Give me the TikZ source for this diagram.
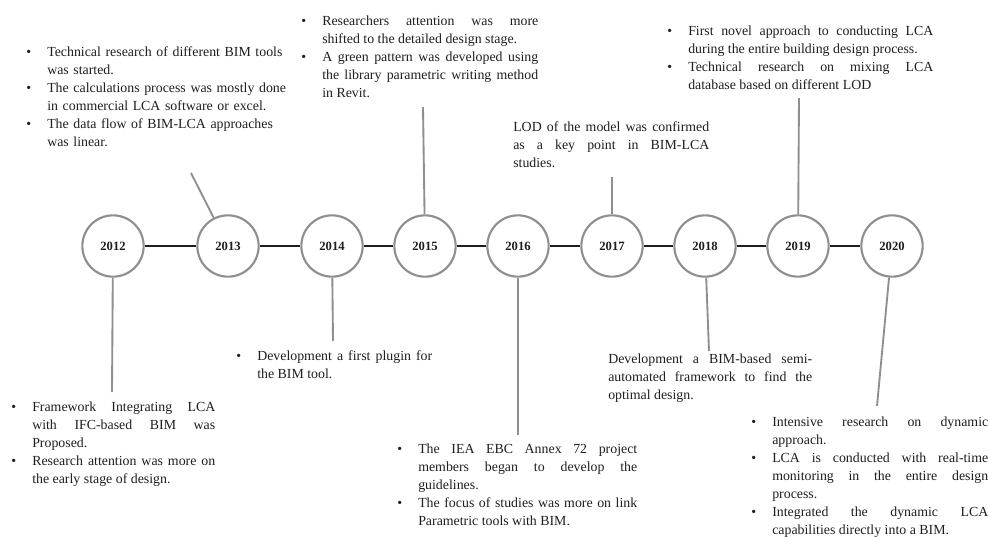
\documentclass[tikz,border=0pt]{standalone}
\usepackage{fontspec}
\setmainfont{Liberation Serif}
\usetikzlibrary{positioning}
\definecolor{ringgrey}{HTML}{8F8F8F}
\definecolor{inkblack}{HTML}{1E1E1E}
\newlength{\tlhang}
\setlength{\tlhang}{15.75pt}
\newcommand{\tlitem}[1]{\noindent\hangindent=\tlhang\hangafter=1\makebox[\tlhang][l]{\textbullet}#1\par}
\tikzset{
  tl yr/.style={circle, draw=ringgrey, line width=1.6pt, fill=white, minimum size=46pt, inner sep=0pt,
                text=inkblack, font=\fontsize{9.5}{11}\selectfont\bfseries},
  tl link/.style={draw=inkblack, line width=0.9pt},
  tl tick/.style={draw=ringgrey, line width=1.4pt},
  tl txt/.style={anchor=north west, inner sep=0pt, align=justify, text=inkblack,
                 font=\fontsize{10.4}{13.5}\selectfont},
}
\begin{document}
\begin{tikzpicture}[x=0.75pt, y=-0.75pt]
  \useasboundingbox (0,0) rectangle (989,536);
  % years on the time line
  \node[tl yr] (y2012) at (113,246) {2012};
  \node[tl yr] (y2013) at (228,246) {2013};
  \node[tl yr] (y2014) at (332,246) {2014};
  \node[tl yr] (y2015) at (425,246) {2015};
  \node[tl yr] (y2016) at (518,246) {2016};
  \node[tl yr] (y2017) at (612,246) {2017};
  \node[tl yr] (y2018) at (705,246) {2018};
  \node[tl yr] (y2019) at (798,246) {2019};
  \node[tl yr] (y2020) at (892,246) {2020};
  \foreach \a/\b in {2012/2013,2013/2014,2014/2015,2015/2016,2016/2017,2017/2018,2018/2019,2019/2020}
    \draw[tl link] (y\a) -- (y\b);
  % free ends of the ticks
  \coordinate (e2012) at (112,392);
  \coordinate (e2013) at (191,173);
  \coordinate (e2014) at (333,341);
  \coordinate (e2015) at (423,107);
  \coordinate (e2016) at (518,435);
  \coordinate (e2017) at (612,177);
  \coordinate (e2018) at (709,351);
  \coordinate (e2019) at (799,98);
  \coordinate (e2020) at (877,406);
  \foreach \y in {2012,...,2020} \draw[tl tick] (y\y) -- (e\y);
  % notes above the line
  \node[tl txt, text width=200pt, align=left] (n2013) at (26,46)
    {\tlitem{Technical research of different BIM tools\linebreak was started.}
     \tlitem{The calculations process was mostly done\linebreak in commercial LCA software or excel.}
     \tlitem{The data flow of BIM-LCA approaches\linebreak was linear.}};
  \node[tl txt, text width=177.75pt] (n2015) at (301,16)
    {\tlitem{Researchers attention was more\linebreak shifted to the detailed design stage.}
     \tlitem{A green pattern was developed using\linebreak the library parametric writing method\linebreak in Revit.}};
  \node[tl txt, text width=147pt] (n2017) at (513,121)
    {\noindent LOD of the model was confirmed\linebreak as a key point in BIM-LCA\linebreak studies.};
  \node[tl txt, text width=199.5pt] (n2019) at (667,26)
    {\tlitem{First novel approach to conducting LCA\linebreak during the entire building design process.}
     \tlitem{Technical research on mixing LCA\linebreak database based on different LOD}};
  % notes below the line
  \node[tl txt, text width=153pt] (n2012) at (11,402)
    {\tlitem{Framework Integrating LCA\linebreak with IFC-based BIM was\linebreak Proposed.}
     \tlitem{Research attention was more on\linebreak the early stage of design.}};
  \node[tl txt, text width=147pt] (n2014) at (236,350)
    {\tlitem{Development a first plugin for\linebreak the BIM tool.}};
  \node[tl txt, text width=180pt] (n2016) at (397,444)
    {\tlitem{The IEA EBC Annex 72 project\linebreak members began to develop the\linebreak guidelines.}
     \tlitem{The focus of studies was more on link\linebreak Parametric tools with BIM.}};
  \node[tl txt, text width=153pt] (n2018) at (608,354)
    {\noindent Development a BIM-based semi-\linebreak automated framework to find the\linebreak optimal design.};
  \node[tl txt, text width=177.75pt] (n2020) at (751,417)
    {\tlitem{Intensive research on dynamic\linebreak approach.}
     \tlitem{LCA is conducted with real-time\linebreak monitoring in the entire design\linebreak process.}
     \tlitem{Integrated the dynamic LCA\linebreak capabilities directly into a BIM.}};
\end{tikzpicture}
\end{document}
